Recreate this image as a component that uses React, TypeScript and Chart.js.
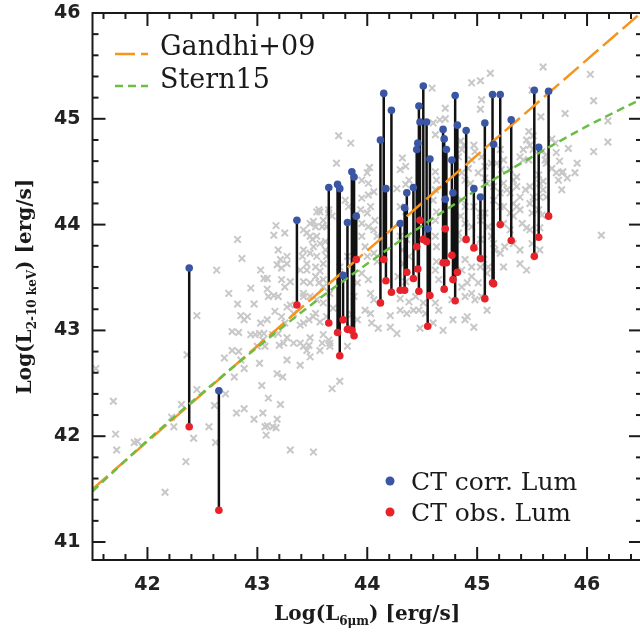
import React, { useEffect, useRef } from "react";
import { Chart, registerables } from "chart.js";

Chart.register(...registerables);

// ---- axes ----
const xRange = [41.5, 46.5];
const yRange = [40.83, 46];
const xTicks = [42, 43, 44, 45, 46];
const yTicks = [41, 42, 43, 44, 45, 46];

// ---- CT sources: log L(6um), corrected and observed log L(2-10 keV) ----
const ctX = [42.38, 42.65, 43.36, 43.65, 43.73, 43.75, 43.78, 43.82, 43.86, 43.88, 43.90, 44.12, 44.15, 44.17, 44.22, 44.30, 44.34, 44.36, 44.42, 44.45, 44.46, 44.47, 44.48, 44.51, 44.54, 44.55, 44.57, 44.69, 44.70, 44.71, 44.72, 44.77, 44.78, 44.80, 44.82, 44.90, 44.97, 45.03, 45.07, 45.14, 45.15, 45.21, 45.31, 45.52, 45.56, 45.65];
const ctCorr = [43.59, 42.43, 44.04, 44.35, 44.38, 44.34, 43.52, 44.02, 44.50, 44.45, 44.08, 44.80, 45.24, 44.34, 45.08, 44.01, 44.16, 44.30, 44.35, 44.71, 44.77, 45.12, 44.97, 45.31, 44.97, 43.96, 44.62, 44.90, 44.81, 44.24, 44.71, 44.61, 44.30, 45.22, 44.94, 44.89, 44.34, 44.26, 44.96, 45.23, 44.76, 45.23, 44.99, 45.27, 44.73, 45.26];
const ctObs = [42.09, 41.30, 43.24, 43.07, 42.98, 42.76, 43.10, 43.01, 43.00, 42.95, 43.67, 43.26, 43.67, 43.47, 43.36, 43.38, 43.38, 43.55, 43.49, 43.79, 43.58, 43.37, 44.04, 43.86, 43.84, 43.04, 43.33, 43.64, 43.39, 43.96, 43.64, 43.71, 43.48, 43.28, 43.55, 43.86, 43.78, 43.68, 43.30, 43.45, 43.44, 44.00, 43.85, 43.70, 43.88, 44.08];

// ---- relations ----
const gandhiX = [41.5, 46.5];
const gandhiY = [41.5, 46.01];
const sternX = [41.5, 42.0, 42.5, 43.0, 43.5, 44.0, 44.5, 45.0, 45.5, 46.0, 46.5];
const sternY = [41.48, 41.96, 42.41, 42.84, 43.25, 43.63, 43.99, 44.33, 44.64, 44.93, 45.19];

// ---- comparison sample (grey crosses): [log L6um, log L2-10] ----
const samplePoints: [number, number][] = [
  [41.53,42.64],[41.69,42.33],[41.71,42.02],[41.72,41.87],[41.88,41.94],[41.91,41.95],[42.16,41.47],[42.22,42.18],[42.24,42.09],[42.31,42.30],
  [42.36,42.77],[42.35,41.76],[42.42,41.98],[42.45,42.44],[42.45,43.14],[42.56,42.09],[42.61,42.29],[42.62,41.94],[42.63,43.57],[42.70,42.74],
  [42.71,42.40],[42.74,43.35],[42.77,42.99],[42.83,42.98],[42.77,42.81],[42.83,42.80],[42.79,42.56],[42.81,42.22],[42.82,43.25],[42.82,43.86],
  [42.86,43.68],[42.85,43.14],[42.91,43.13],[42.88,43.10],[42.88,42.26],[42.88,42.64],[42.85,42.72],[42.94,43.40],[42.97,42.16],[42.97,43.25],
  [43.00,42.85],[43.02,42.69],[43.04,42.48],[43.05,42.22],[43.07,42.09],[43.09,42.10],[43.14,42.09],[43.17,42.08],[43.08,42.01],[43.10,42.36],
  [43.18,42.16],[43.21,42.30],[43.18,42.59],[43.23,42.56],[43.27,42.72],[43.20,42.86],[43.24,42.88],[43.05,42.91],[43.07,42.85],[42.98,42.96],
  [43.02,42.97],[43.14,42.96],[43.30,41.87],[43.51,41.85],[43.39,42.67],[43.42,42.85],[43.45,42.81],[43.48,42.75],[43.57,42.81],[43.65,42.91],
  [43.66,42.85],[43.68,42.45],[43.75,42.52],[43.82,42.85],[43.85,43.03],[43.03,43.57],[43.09,43.49],[43.21,43.67],[43.27,43.63],[43.22,43.59],
  [43.15,43.33],[43.25,43.41],[43.30,43.24],[43.39,43.57],[43.45,43.63],[43.48,43.32],[43.54,43.29],[43.51,43.13],[43.57,43.08],[43.39,43.05],
  [43.25,43.07],[43.16,43.18],[43.22,43.13],[43.09,43.10],[43.06,42.97],[43.19,42.97],[43.27,42.93],[43.33,42.88],[43.60,43.41],[43.66,43.35],
  [43.69,43.21],[43.75,43.60],[43.82,43.70],[43.63,43.70],[43.42,43.46],[43.88,43.32],[43.91,43.45],[43.06,43.49],[43.17,43.99],[43.15,43.90],
  [43.25,43.92],[43.19,43.76],[43.27,43.70],[43.18,43.62],[43.09,43.39],[43.10,43.32],[43.19,43.32],[43.22,43.48],[43.30,43.46],[43.42,43.95],
  [43.48,43.89],[43.51,44.03],[43.57,44.12],[43.51,43.79],[43.54,43.70],[43.60,43.63],[43.41,43.70],[43.45,43.57],[43.53,43.51],[43.56,43.45],
  [43.60,43.48],[43.42,43.32],[43.60,43.26],[43.27,43.22],[43.33,43.16],[43.03,43.07],[42.94,42.96],[43.47,43.10],[43.63,43.13],[43.60,42.96],
  [43.66,42.88],[43.48,42.93],[43.63,43.98],[43.62,43.84],[43.65,44.14],[43.54,44.12],[43.74,44.84],[43.85,44.77],[43.72,44.58],[44.02,44.54],
  [44.00,44.49],[43.95,44.42],[44.01,44.39],[43.56,44.14],[43.48,44.01],[43.53,43.98],[43.45,43.92],[43.50,43.86],[43.54,43.89],[43.59,43.98],
  [43.60,44.04],[43.65,44.11],[43.68,44.08],[43.80,44.23],[43.83,44.17],[43.95,44.25],[44.01,44.28],[44.06,44.31],[43.94,44.14],[44.00,44.11],
  [44.03,44.17],[43.95,44.01],[44.01,43.98],[44.07,44.04],[44.06,43.95],[44.09,43.89],[43.95,43.89],[43.98,43.79],[44.00,43.70],[44.06,43.73],
  [44.09,43.65],[43.95,43.54],[44.01,43.48],[44.03,43.35],[44.06,43.29],[43.98,43.19],[44.03,43.16],[44.21,43.14],[43.57,43.82],[43.62,43.76],
  [43.42,43.76],[43.48,43.73],[43.53,43.60],[43.57,43.56],[43.48,43.45],[43.42,43.35],[43.53,43.16],[43.42,43.07],[43.39,42.88],[43.47,42.86],
  [43.59,42.88],[43.86,43.15],[43.91,43.10],[44.04,43.07],[44.10,43.02],[44.21,43.03],[44.27,42.97],[44.95,45.34],[44.71,45.10],[44.71,45.00],
  [44.66,44.99],[44.62,44.85],[44.85,44.79],[44.88,44.75],[44.97,44.75],[44.98,44.69],[44.86,44.71],[44.83,44.64],[44.32,44.63],[44.30,44.52],
  [44.35,44.55],[44.38,44.42],[44.35,44.38],[44.27,44.34],[44.95,44.61],[44.92,44.53],[44.86,44.49],[45.04,44.64],[45.07,44.55],[45.13,44.58],
  [45.01,44.49],[45.07,44.44],[44.89,44.42],[44.94,44.39],[44.62,44.50],[44.63,44.42],[44.86,44.23],[44.89,44.17],[44.62,44.33],[44.60,44.23],
  [44.30,44.17],[44.35,44.12],[44.63,44.12],[44.62,44.04],[44.85,44.08],[44.89,44.01],[44.95,43.98],[45.03,44.04],[45.07,44.11],[45.10,43.98],
  [45.13,43.89],[44.83,43.92],[44.86,43.86],[44.30,43.89],[44.36,43.86],[44.32,43.76],[44.62,43.89],[44.63,43.79],[45.03,43.86],[44.98,43.79],
  [44.89,43.67],[44.95,43.60],[44.86,43.57],[44.38,43.70],[44.33,43.63],[44.63,43.65],[44.62,43.57],[45.06,43.67],[45.10,43.60],[44.95,43.51],
  [45.01,43.45],[44.28,43.51],[44.35,43.46],[44.86,43.41],[44.65,43.48],[44.30,43.30],[44.38,43.27],[44.44,43.32],[44.30,43.19],[44.36,43.16],
  [44.42,43.19],[44.47,43.19],[44.53,43.16],[44.62,43.26],[44.65,43.19],[44.77,43.29],[44.89,43.32],[44.95,43.35],[44.98,43.29],[44.89,43.10],
  [44.48,43.02],[44.69,43.00],[45.60,45.49],[45.12,45.43],[45.03,45.36],[44.59,45.29],[46.03,45.42],[46.06,45.17],[46.19,44.98],[45.80,45.05],
  [45.03,45.09],[45.04,45.18],[46.06,44.69],[46.19,44.78],[45.83,44.72],[45.72,44.68],[45.75,44.60],[45.45,44.80],[45.48,44.75],[45.51,44.71],
  [45.42,44.71],[45.39,44.64],[45.47,44.61],[45.63,44.58],[45.68,44.53],[45.72,44.49],[45.74,44.42],[45.78,44.50],[45.89,44.49],[45.77,44.33],
  [45.57,44.39],[45.60,44.33],[45.51,44.26],[45.33,44.42],[45.36,44.36],[45.30,44.30],[45.18,44.58],[45.22,44.52],[45.24,44.39],[45.27,44.33],
  [45.09,44.39],[45.15,44.36],[45.21,44.30],[45.15,44.23],[45.21,44.17],[45.33,44.20],[45.39,44.14],[45.48,44.20],[45.56,44.14],[45.33,44.08],
  [45.41,44.01],[45.48,43.95],[45.24,44.01],[45.30,43.95],[44.97,44.17],[45.03,44.11],[45.50,43.82],[45.57,43.76],[46.13,43.90],[45.33,43.82],
  [45.39,43.76],[45.15,43.82],[45.21,43.73],[45.24,43.60],[45.03,43.60],[45.09,43.54],[45.39,43.63],[45.45,43.57],[44.91,43.45],[45.04,43.32],
  [44.51,43.26],[45.09,43.19],[44.91,43.13],[44.78,43.10],[44.60,43.07],[44.97,43.03],[45.58,45.02],[45.47,44.88],[45.51,44.84],[45.59,44.69],
  [45.63,44.66],[45.68,44.81],[45.71,44.77],[45.91,44.58],[45.62,44.61],[45.77,44.49],[45.82,44.44],[45.56,44.47],[45.60,44.41],[45.48,44.36],
  [45.42,44.61],[45.30,44.52],[45.36,44.45],[45.24,44.61],[45.21,44.71],[45.39,44.26],[45.44,44.33],[45.57,44.26],[45.63,44.26],[45.24,44.17],
  [45.30,44.11],[45.36,44.17],[45.50,44.11],[45.59,44.09],[45.45,43.97],[45.57,43.97],[45.16,43.76],[45.25,43.79],[45.50,45.27],[44.60,44.96],
];

// ---- text ----
const xTitle = ["Log(L", "6μm", ") [erg/s]"];
const yTitle = ["Log(L", "2-10 keV", ") [erg/s]"];
const lineLegend = ["Gandhi+09", "Stern15"];
const dotLegend = ["CT corr. Lum", "CT obs. Lum"];

const ORANGE = "#F7941D";
const GREEN = "#6ABE45";
const BLUE = "#3A55A4";
const RED = "#E8222A";
const GREY = "rgb(200,200,200)";
const INK = "#1a1a1a";

const CANVAS_W = 660;
const CANVAS_H = 641;

function drawParts(ctx: CanvasRenderingContext2D, parts: string[], cx: number, baseY: number) {
  const main = 'bold 20px "DejaVu Serif"';
  const sub = 'bold 12px "DejaVu Serif"';
  const fonts = [main, sub, main];
  const dys = [0, 5, 0];
  let total = 0;
  const widths = parts.map((p, i) => {
    ctx.font = fonts[i];
    const w = ctx.measureText(p).width;
    total += w;
    return w;
  });
  let x = cx - total / 2;
  ctx.textAlign = "left";
  ctx.textBaseline = "alphabetic";
  parts.forEach((p, i) => {
    ctx.font = fonts[i];
    ctx.fillText(p, x, baseY + dys[i]);
    x += widths[i];
  });
}

const decorPlugin = {
  id: "decor",
  afterDraw(chart: any) {
    const { ctx, chartArea: a, scales } = chart;
    const xs = scales.x;
    const ys = scales.y;
    ctx.save();
    ctx.setLineDash([]);
    ctx.strokeStyle = INK;
    ctx.lineWidth = 2;
    ctx.strokeRect(a.left, a.top, a.right - a.left, a.bottom - a.top);
    const seg = (x1: number, y1: number, x2: number, y2: number) => {
      ctx.beginPath();
      ctx.moveTo(x1, y1);
      ctx.lineTo(x2, y2);
      ctx.stroke();
    };
    for (let k = Math.ceil(xs.min * 5); k <= Math.floor(xs.max * 5); k++) {
      const p = xs.getPixelForValue(k / 5);
      const len = k % 5 === 0 ? 13 : 6;
      seg(p, a.bottom, p, a.bottom - len);
      seg(p, a.top, p, a.top + len);
    }
    for (let k = Math.ceil(ys.min * 5); k <= Math.floor(ys.max * 5); k++) {
      const p = ys.getPixelForValue(k / 5);
      const len = k % 5 === 0 ? 13 : 6;
      seg(a.left, p, a.left + len, p);
      seg(a.right, p, a.right - len, p);
    }

    // axis titles
    ctx.fillStyle = INK;
    drawParts(ctx, xTitle, (a.left + a.right) / 2, 620);
    ctx.save();
    ctx.translate(31, (a.top + a.bottom) / 2);
    ctx.rotate(-Math.PI / 2);
    drawParts(ctx, yTitle, 0, 0);
    ctx.restore();

    // line legend (top-left)
    ctx.lineWidth = 2.5;
    ctx.strokeStyle = ORANGE;
    ctx.setLineDash([20, 6]);
    seg(115, 54, 148, 54);
    ctx.strokeStyle = GREEN;
    ctx.setLineDash([8, 5]);
    seg(115, 86, 148, 86);
    ctx.setLineDash([]);
    ctx.font = '27px "DejaVu Serif"';
    ctx.textAlign = "left";
    ctx.textBaseline = "alphabetic";
    ctx.fillStyle = INK;
    ctx.fillText(lineLegend[0], 160, 55);
    ctx.fillText(lineLegend[1], 160, 88);

    // dot legend (bottom-right)
    ctx.fillStyle = BLUE;
    ctx.beginPath();
    ctx.arc(390, 481, 4.5, 0, Math.PI * 2);
    ctx.fill();
    ctx.fillStyle = RED;
    ctx.beginPath();
    ctx.arc(390, 512, 4.5, 0, Math.PI * 2);
    ctx.fill();
    ctx.fillStyle = INK;
    ctx.font = '25px "DejaVu Serif"';
    ctx.fillText(dotLegend[0], 411, 490);
    ctx.fillText(dotLegend[1], 411, 521);
    ctx.restore();
  },
};

export default function App() {
  const ref = useRef<HTMLCanvasElement | null>(null);

  useEffect(() => {
    if (!ref.current) return;
    const sample = samplePoints.map(([x, y]) => ({ x, y }));
    const stems: { x: number; y: number | null }[] = [];
    ctX.forEach((x, i) => {
      stems.push({ x, y: ctCorr[i] }, { x, y: ctObs[i] }, { x, y: null });
    });
    const corr = ctX.map((x, i) => ({ x, y: ctCorr[i] }));
    const obs = ctX.map((x, i) => ({ x, y: ctObs[i] }));
    const gandhi = gandhiX.map((x, i) => ({ x, y: gandhiY[i] }));
    const stern = sternX.map((x, i) => ({ x, y: sternY[i] }));

    const chart = new Chart(ref.current, {
      type: "scatter",
      data: {
        datasets: [
          {
            type: "scatter",
            data: sample,
            pointStyle: "crossRot",
            pointRadius: 4.6,
            pointBorderWidth: 2,
            pointBorderColor: GREY,
            pointBackgroundColor: GREY,
            borderColor: GREY,
            order: 6,
          } as any,
          {
            type: "line",
            data: stems,
            borderColor: "#111",
            borderWidth: 2.5,
            pointRadius: 0,
            spanGaps: false,
            tension: 0,
            order: 5,
          } as any,
          {
            type: "line",
            data: gandhi,
            borderColor: ORANGE,
            borderWidth: 2.5,
            borderDash: [20, 6],
            pointRadius: 0,
            tension: 0,
            order: 4,
          } as any,
          {
            type: "line",
            data: stern,
            borderColor: GREEN,
            borderWidth: 2.5,
            borderDash: [8, 5],
            pointRadius: 0,
            cubicInterpolationMode: "monotone",
            order: 3,
          } as any,
          {
            type: "scatter",
            data: corr,
            pointRadius: 3.8,
            pointBorderWidth: 0,
            pointBackgroundColor: BLUE,
            backgroundColor: BLUE,
            order: 2,
          } as any,
          {
            type: "scatter",
            data: obs,
            pointRadius: 3.8,
            pointBorderWidth: 0,
            pointBackgroundColor: RED,
            backgroundColor: RED,
            order: 1,
          } as any,
        ],
      },
      options: {
        responsive: false,
        animation: false,
        devicePixelRatio: 1,
        events: [],
        layout: { padding: { left: 0, top: 13, right: CANVAS_W - 642, bottom: 0 } },
        plugins: { legend: { display: false }, tooltip: { enabled: false } },
        scales: {
          x: {
            type: "linear",
            min: xRange[0],
            max: xRange[1],
            grid: { display: false, drawTicks: false },
            border: { display: false },
            afterBuildTicks: (s: any) => {
              s.ticks = xTicks.map((v) => ({ value: v }));
            },
            afterFit: (s: any) => {
              s.height = CANVAS_H - 560;
              s.paddingLeft = 0;
              s.paddingRight = 0;
              s.paddingTop = 0;
              s.paddingBottom = 0;
            },
            ticks: {
              padding: 14,
              color: "#222",
              font: { family: "DejaVu Sans", size: 19, weight: "bold" },
              maxRotation: 0,
            },
          },
          y: {
            type: "linear",
            min: yRange[0],
            max: yRange[1],
            grid: { display: false, drawTicks: false },
            border: { display: false },
            afterBuildTicks: (s: any) => {
              s.ticks = yTicks.map((v) => ({ value: v }));
            },
            afterFit: (s: any) => {
              s.width = 92.5;
              s.paddingTop = 0;
              s.paddingBottom = 0;
              s.paddingLeft = 0;
              s.paddingRight = 0;
            },
            ticks: {
              padding: 12,
              color: "#222",
              font: { family: "DejaVu Sans", size: 19, weight: "bold" },
            },
          },
        },
      } as any,
      plugins: [decorPlugin],
    });
    return () => chart.destroy();
  }, []);

  return (
    <div
      style={{
        position: "fixed",
        left: 0,
        top: 0,
        width: 640,
        height: 641,
        overflow: "hidden",
        background: "#fff",
      }}
    >
      <canvas
        ref={ref}
        width={CANVAS_W}
        height={CANVAS_H}
        style={{ display: "block", width: CANVAS_W, height: CANVAS_H }}
      />
    </div>
  );
}
